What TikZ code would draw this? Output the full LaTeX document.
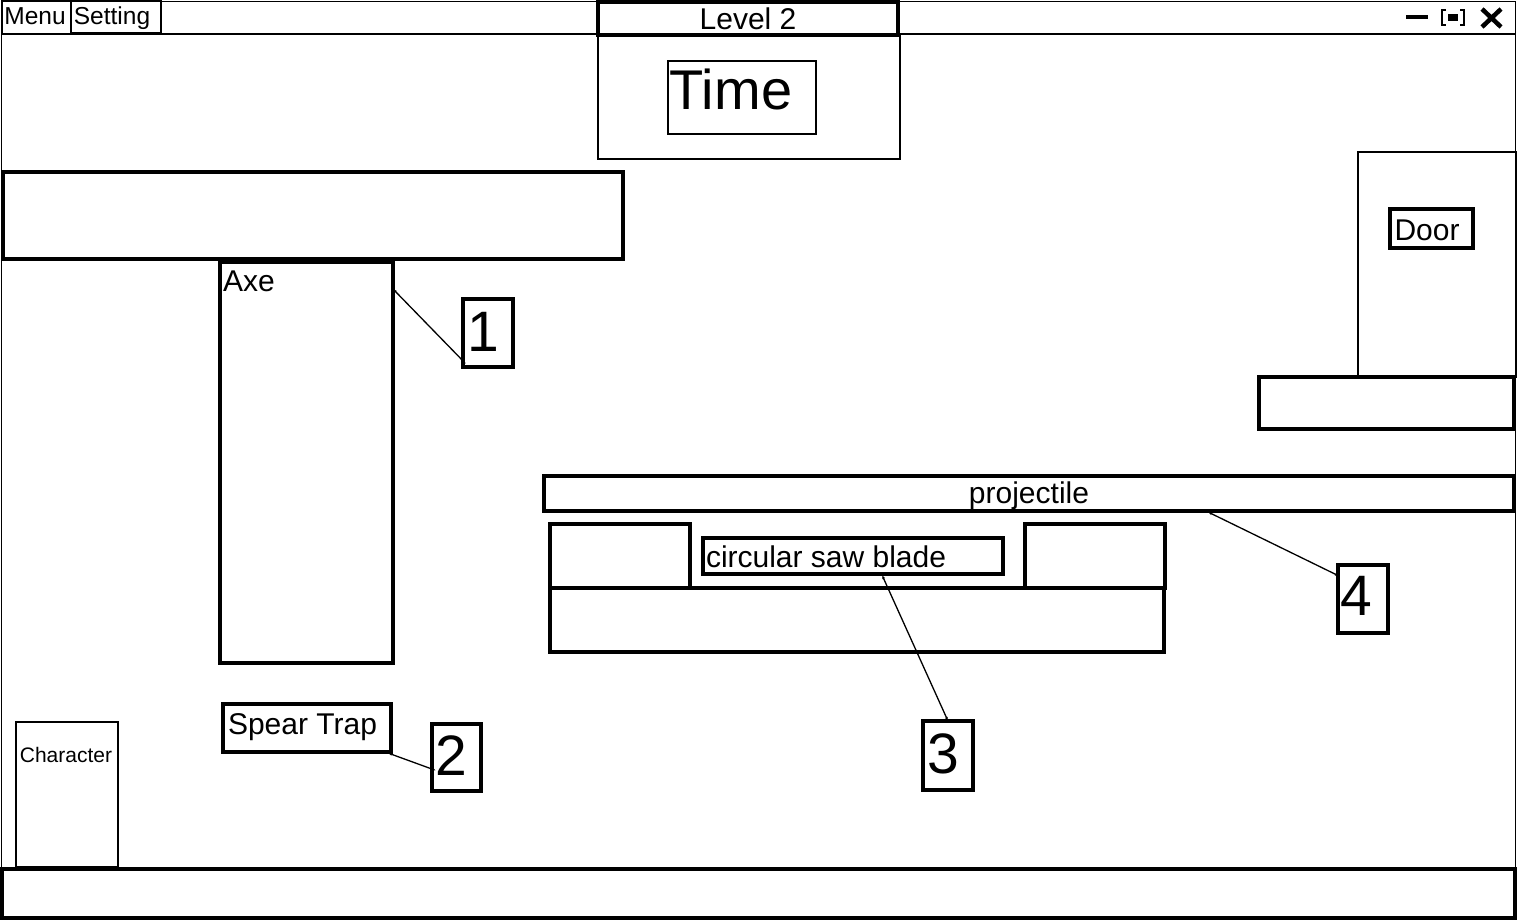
\documentclass[tikz,border=0pt]{standalone}
\usepackage{fontspec}
\setmainfont{Liberation Sans}
\usetikzlibrary{arrows.meta,calc}
\tikzset{
  thinbox/.style={draw, line width=1.6pt, inner sep=0pt, outer sep=0pt},
  thickbox/.style={draw, line width=3.2pt, inner sep=0pt, outer sep=0pt},
  conn/.style={draw, line width=1.3pt, {Latex[length=4pt,width=3pt]}-{Latex[length=4pt,width=3pt]}},
  lbl/.style={inner sep=0pt, outer sep=0pt, anchor=base},
}
\newcommand{\fs}[1]{\fontsize{#1}{#1}\selectfont}
\begin{document}
\begin{tikzpicture}[x=1pt,y=-1pt]
\useasboundingbox (0,0) rectangle (1517,920);
\fill[white] (0,0) rectangle (1517,920);
% window frame
\node[thinbox, minimum width=1514pt, minimum height=917pt] (frame) at (758.5,460) {};
\draw[line width=1.6pt] (frame.west |- 0,34) coordinate (tl) -- (frame.east |- 0,34) coordinate (tr);
% menu
\node[thinbox, minimum width=69pt, minimum height=33pt] (menu) at (36.5,17.5) {};
\node[lbl, font=\fs{24.5}] (menut) at (35,24.5) {Menu};
\node[thinbox, minimum width=90pt, minimum height=32pt] (setting) at (116,17) {};
\node[lbl, font=\fs{24.5}] (settingt) at (112,24.5) {Setting};
% level and time
\node[thickbox, minimum width=300pt, minimum height=33pt] (level) at (748,18.5) {};
\node[lbl, font=\fs{30}] (levelt) at (748,30) {Level 2};
\node[thinbox, minimum width=302pt, minimum height=123pt] (timeo) at (749,97.5) {};
\node[thinbox, minimum width=148pt, minimum height=73pt] (timei) at (742,97.5) {};
\node[lbl, font=\fs{56}] (timet) at (731,110) {Time};
% window icons
\draw[line width=3.5pt] (1406,17) coordinate (m1) -- (1428,17) coordinate (m2);
\node[draw=none, fill=black, minimum width=10pt, minimum height=7pt, inner sep=0pt] (maxc) at (1453,17.5) {};
\draw[line width=1.8pt] (1446,10) -- (1442,10) -- (1442,25) -- (1446,25);
\draw[line width=1.8pt] (1460,10) -- (1464,10) -- (1464,25) -- (1460,25);
\draw[line width=4.5pt] (1482,9) -- (1501,27) (1501,9) -- (1482,27);
% platforms
\node[thickbox, minimum width=620pt, minimum height=87pt] (plat1) at (313,215.5) {};
\node[thickbox, minimum width=173pt, minimum height=401pt] (axe) at (306.5,462.5) {};
\node[lbl, font=\fs{30}, anchor=base west] (axet) at (223,291) {Axe};
\node[thickbox, minimum width=50pt, minimum height=68pt] (n1) at (488,333) {};
\node[lbl, font=\fs{57}] (n1t) at (483,351) {1};
\draw[conn] ($(axe.north east)+(0,27)$) -- ($(n1.south west)+(3,-3)$);
% spear trap
\node[thickbox, minimum width=168pt, minimum height=48pt] (spear) at (307,728) {};
\node[lbl, font=\fs{30}] (speart) at (302.5,734) {Spear Trap};
\node[thickbox, minimum width=49pt, minimum height=67pt] (n2) at (456.5,757.5) {};
\node[lbl, font=\fs{57}] (n2t) at (451.5,775) {2};
\draw[conn] ($(spear.south east)+(-3,1)$) -- ($(n2.west)+(4,13)$);
% character
\node[thinbox, minimum width=102pt, minimum height=145pt] (char) at (67,794.5) {};
\node[lbl, font=\fs{21}] (chart) at (66,762) {Character};
% ground
\node[thickbox, minimum width=1513pt, minimum height=49pt] (ground) at (758.5,893.5) {};
% projectile
\node[thickbox, minimum width=970pt, minimum height=35pt] (proj) at (1029,493.5) {};
\node[lbl, font=\fs{30}] (projt) at (1029,503) {projectile};
\node[thickbox, minimum width=140pt, minimum height=64pt] (lb) at (620,556) {};
\node[thickbox, minimum width=140pt, minimum height=64pt] (rb) at (1095,556) {};
\node[thickbox, minimum width=614pt, minimum height=64pt] (low) at (857,620) {};
\node[thickbox, minimum width=300pt, minimum height=36pt] (saw) at (853,556) {};
\node[lbl, font=\fs{30}, anchor=base west] (sawt) at (706,567) {circular saw blade};
\node[thickbox, minimum width=50pt, minimum height=69pt] (n3) at (948,755.5) {};
\node[lbl, font=\fs{57}] (n3t) at (943,773) {3};
\draw[conn] ($(saw.south)+(29,1)$) -- (n3.north);
\node[thickbox, minimum width=50pt, minimum height=68pt] (n4) at (1363,599) {};
\node[lbl, font=\fs{57}] (n4t) at (1356,615) {4};
\draw[conn] ($(proj.south)+(179,1)$) -- ($(n4.north west)+(1,11)$);
% door
\node[thinbox, minimum width=158pt, minimum height=225pt] (dframe) at (1437,264.5) {};
\node[thickbox, minimum width=83pt, minimum height=39pt] (door) at (1431.5,228.5) {};
\node[lbl, font=\fs{30}] (doort) at (1427,240) {Door};
\node[thickbox, minimum width=255pt, minimum height=52pt] (dplat) at (1386.5,403) {};
\end{tikzpicture}
\end{document}
